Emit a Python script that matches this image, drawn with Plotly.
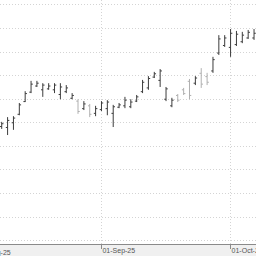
import numpy as np
import plotly.graph_objects as go

dates = ["2025-08-07","2025-08-08","2025-08-11","2025-08-12","2025-08-13","2025-08-14","2025-08-15",
         "2025-08-18","2025-08-19","2025-08-20","2025-08-21","2025-08-22",
         "2025-08-25","2025-08-26","2025-08-27","2025-08-28","2025-08-29",
         "2025-09-01","2025-09-02","2025-09-03","2025-09-04","2025-09-05",
         "2025-09-08","2025-09-09","2025-09-10","2025-09-11","2025-09-12",
         "2025-09-15","2025-09-16","2025-09-17","2025-09-18","2025-09-19",
         "2025-09-22","2025-09-23","2025-09-24","2025-09-25","2025-09-26",
         "2025-09-29","2025-09-30","2025-10-01","2025-10-02","2025-10-03",
         "2025-10-06","2025-10-07"]
high  = [12.02,12.12,12.14,12.42,12.67,12.89,12.89,12.84,12.84,12.84,12.84,12.80,
         12.63,12.50,12.46,12.40,12.36,12.46,12.48,12.38,12.42,12.55,
         12.50,12.59,12.91,12.99,13.08,13.14,12.76,12.53,12.61,12.74,
         12.93,12.99,13.16,13.06,13.40,13.86,13.86,13.99,13.95,13.93,13.97,13.99]
low   = [11.87,11.74,11.85,12.16,12.44,12.63,12.76,12.55,12.70,12.63,12.50,12.63,
         12.50,12.19,12.27,12.12,12.14,12.25,12.16,11.91,12.31,12.31,
         12.31,12.44,12.63,12.70,12.95,12.76,12.46,12.33,12.44,12.59,
         12.50,12.80,12.74,12.80,13.06,13.44,13.61,13.40,13.63,13.69,13.78,13.76]
open_ = [11.92,11.90,12.00,12.18,12.45,12.65,12.78,12.70,12.72,12.70,12.60,12.66,
         12.52,12.46,12.30,12.36,12.20,12.28,12.30,12.20,12.33,12.36,
         12.34,12.46,12.66,12.74,12.97,12.90,12.50,12.36,12.58,12.70,
         12.88,12.84,13.05,12.98,13.10,13.48,13.64,13.60,13.66,13.72,13.80,13.80]
close = [11.98,12.05,12.10,12.38,12.62,12.82,12.84,12.80,12.78,12.80,12.76,12.74,
         12.58,12.24,12.40,12.18,12.30,12.42,12.44,12.34,12.38,12.48,
         12.44,12.55,12.86,12.94,13.04,13.10,12.72,12.48,12.48,12.62,
         12.58,12.95,12.82,12.86,13.34,13.78,13.80,13.90,13.88,13.86,13.92,13.90]

x_range = ["2025-08-06 17:00", "2025-10-07 08:00"]
month_ticks = ["2025-08-01", "2025-09-01", "2025-10-01"]

# position of the first (off-range) month label, from the weekday-only scale
def wd_time(a, b):
    a = np.datetime64(a.replace(" ", "T"), "m"); b = np.datetime64(b.replace(" ", "T"), "m")
    da, db = a.astype("datetime64[D]"), b.astype("datetime64[D]")
    full = np.busday_count(da, db)
    fa = (a - da.astype("datetime64[m]")).astype(float) / 1440.0
    fb = (b - db.astype("datetime64[m]")).astype(float) / 1440.0
    return full - fa + fb
total = wd_time(x_range[0], x_range[1])
aug_frac = -wd_time(month_ticks[0] + " 00:00", x_range[0]) / total

font = dict(family="Liberation Sans", size=7, color="#555555")

fig = go.Figure(go.Ohlc(
    x=dates, open=open_, high=high, low=low, close=close,
    increasing=dict(line=dict(color="#3c3c3c", width=1)),
    decreasing=dict(line=dict(color="#b0b0b0", width=1)),
    tickwidth=0.3, hoverinfo="skip", showlegend=False,
))

fig.add_annotation(x=aug_frac, xref="paper", y=0, yref="paper", yanchor="top", xanchor="left",
                   yshift=-3, xshift=-2, text="01-Aug-25", showarrow=False, font=font)

fig.update_layout(
    width=256, height=256,
    margin=dict(l=0, r=0, t=0, b=12, pad=0),
    paper_bgcolor="#f0f0f0", plot_bgcolor="white",
    showlegend=False,
    xaxis=dict(
        type="date", rangeslider=dict(visible=False),
        range=x_range,
        rangebreaks=[dict(bounds=["sat", "mon"])],
        tickvals=month_ticks, tickformat="%d-%b-%y",
        ticklabelposition="outside right", ticklabeloverflow="allow",
        showgrid=True, gridcolor="#d4d4d4", griddash="1px,2px", gridwidth=1,
        showline=True, linecolor="#8a8a8a", linewidth=1,
        ticks="outside", ticklen=4, tickcolor="#8a8a8a",
        tickfont=font,
        automargin=False, zeroline=False,
    ),
    yaxis=dict(
        range=[9.427, 14.606], tick0=10, dtick=0.5,
        showgrid=True, gridcolor="#d4d4d4", griddash="1px,2px", gridwidth=1,
        showticklabels=False, showline=False, zeroline=False,
        automargin=False,
    ),
)

fig.write_html("out.html")
